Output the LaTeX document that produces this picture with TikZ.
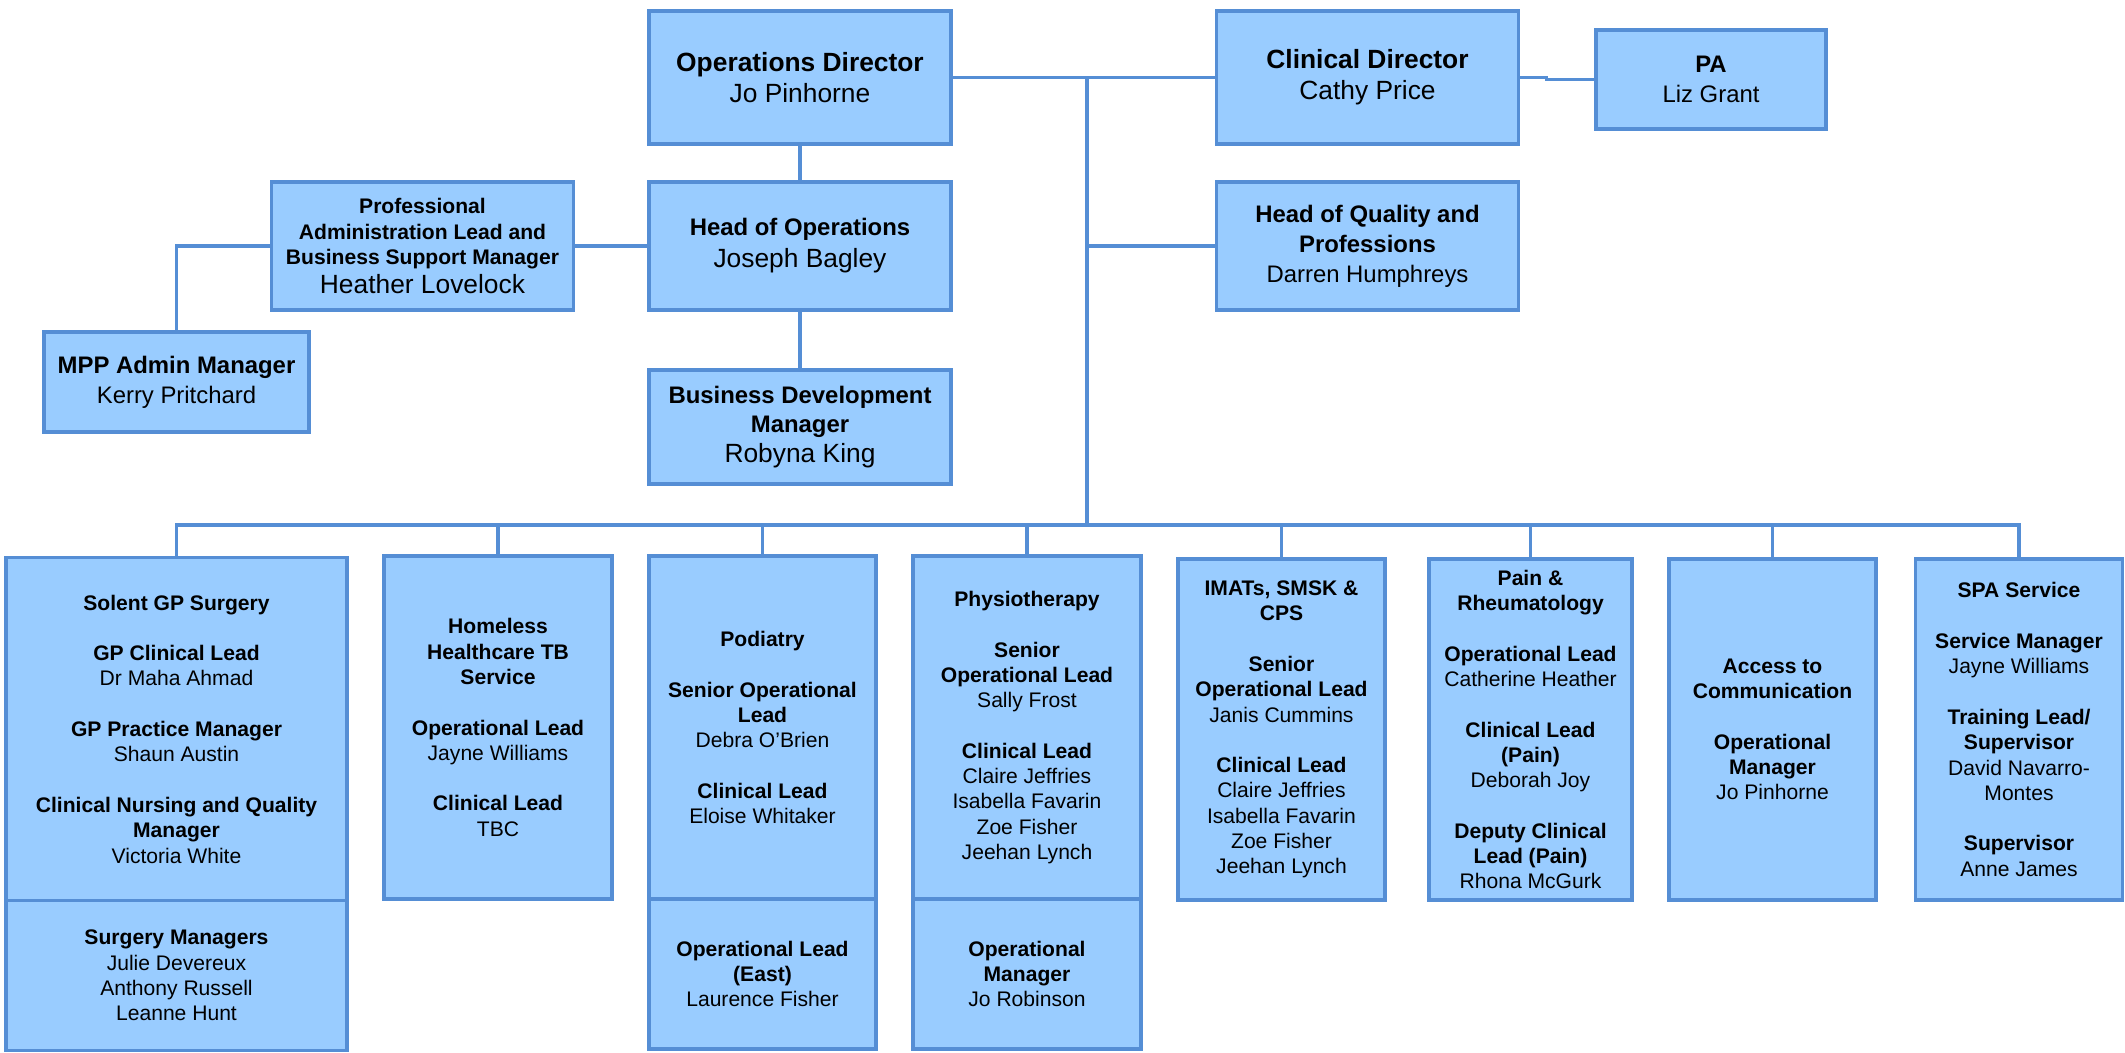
\documentclass[tikz,border=0pt]{standalone}
\usepackage{fontspec}
\setmainfont{Liberation Sans}
\usepackage{tikz}
\usetikzlibrary{positioning}
\definecolor{boxfill}{HTML}{99CCFF}
\definecolor{boxline}{HTML}{558ED5}
\newcommand{\sizeA}{\fontsize{7.5}{8.8}\selectfont}
\newcommand{\sizeB}{\fontsize{6.8}{8.5}\selectfont}
\newcommand{\sizeC}{\fontsize{6}{7.2}\selectfont}
\begin{document}
\begin{tikzpicture}[x=0.1mm, y=-0.1mm,
    orgbox/.style={draw=boxline, fill=boxfill, line width=0.9pt, align=center,
      inner sep=0pt, outer sep=0pt, font=\sizeC},
    topbox/.style={orgbox, minimum width=30.2mm, minimum height=13.3mm},
    unitbox/.style={orgbox, minimum height=34.3mm},
    lowbox/.style={orgbox, minimum height=15mm},
    conn/.style={draw=boxline, line width=1.1pt}]
  \useasboundingbox (0,0) rectangle (2125,1052);
  % top level
  \node[topbox, font=\sizeA] (ops) at (800,77.5) {\textbf{Operations Director}\\Jo Pinhorne};
  \node[topbox, font=\sizeA] (clin) at (1367.5,77.5) {\textbf{Clinical Director}\\Cathy Price};
  \node[orgbox, minimum width=23mm, minimum height=9.9mm, font=\sizeB] (pa) at (1711,79.5) {\textbf{PA}\\Liz Grant};
  % second level
  \node[topbox, minimum height=12.8mm, font=\sizeB] (hops) at (800,246)
    {\textbf{Head of Operations}\\[0.6pt]{\sizeA Joseph Bagley}};
  \node[topbox, minimum height=12.8mm, font=\sizeB] (hoq) at (1367.5,246)
    {\textbf{Head of Quality and}\\\textbf{Professions}\\Darren Humphreys};
  \node[topbox, minimum height=12.8mm, font=\sizeC] (admin) at (422.5,246)
    {\textbf{Professional}\\\textbf{Administration Lead and}\\\textbf{Business Support Manager}\\[1pt]{\sizeA Heather Lovelock}};
  \node[orgbox, minimum width=26.5mm, minimum height=10mm, font=\sizeB] (mpp) at (176.5,382)
    {\textbf{MPP Admin Manager}\\Kerry Pritchard};
  \node[topbox, minimum height=11.4mm, font=\sizeB] (busdev) at (800,427)
    {\textbf{Business Development}\\\textbf{Manager}\\{\sizeA Robyna King}};
  % services
  \node[unitbox, minimum width=34.1mm] (solent) at (176.5,729)
    {\textbf{Solent GP Surgery}\\[7.2pt]
     \textbf{GP Clinical Lead}\\Dr Maha Ahmad\\[7.2pt]
     \textbf{GP Practice Manager}\\Shaun Austin\\[7.2pt]
     \textbf{Clinical Nursing and Quality}\\\textbf{Manager}\\Victoria White};
  \node[lowbox, minimum width=34.1mm, below=0pt of solent] (solentlow)
    {\textbf{Surgery Managers}\\Julie Devereux\\Anthony Russell\\Leanne Hunt};
  \node[unitbox, minimum width=22.8mm] (homeless) at (498,727.5)
    {\textbf{Homeless}\\\textbf{Healthcare TB}\\\textbf{Service}\\[7.2pt]
     \textbf{Operational Lead}\\Jayne Williams\\[7.2pt]
     \textbf{Clinical Lead}\\TBC};
  \node[unitbox, minimum width=22.7mm] (podiatry) at (762.5,727.5)
    {\textbf{Podiatry}\\[7.2pt]
     \textbf{Senior Operational}\\\textbf{Lead}\\Debra O’Brien\\[7.2pt]
     \textbf{Clinical Lead}\\Eloise Whitaker};
  \node[lowbox, minimum width=22.7mm, below=0pt of podiatry] (podiatrylow)
    {\textbf{Operational Lead}\\\textbf{(East)}\\Laurence Fisher};
  \node[unitbox, minimum width=22.8mm] (physio) at (1027,727.5)
    {\textbf{Physiotherapy}\\[7.2pt]
     \textbf{Senior}\\\textbf{Operational Lead}\\Sally Frost\\[7.2pt]
     \textbf{Clinical Lead}\\Claire Jeffries\\Isabella Favarin\\Zoe Fisher\\Jeehan Lynch};
  \node[lowbox, minimum width=22.8mm, below=0pt of physio] (physiolow)
    {\textbf{Operational}\\\textbf{Manager}\\Jo Robinson};
  \node[unitbox, minimum width=20.7mm, minimum height=34.1mm] (imats) at (1281.5,729.5)
    {\textbf{IMATs, SMSK \&}\\\textbf{CPS}\\[7.2pt]
     \textbf{Senior}\\\textbf{Operational Lead}\\Janis Cummins\\[7.2pt]
     \textbf{Clinical Lead}\\Claire Jeffries\\Isabella Favarin\\Zoe Fisher\\Jeehan Lynch};
  \node[unitbox, minimum width=20.3mm, minimum height=34.1mm] (pain) at (1530.5,729.5)
    {\textbf{Pain \&}\\\textbf{Rheumatology}\\[7.2pt]
     \textbf{Operational Lead}\\Catherine Heather\\[7.2pt]
     \textbf{Clinical Lead}\\\textbf{(Pain)}\\Deborah Joy\\[7.2pt]
     \textbf{Deputy Clinical}\\\textbf{Lead (Pain)}\\Rhona McGurk};
  \node[unitbox, minimum width=20.7mm, minimum height=34.1mm] (access) at (1772.5,729.5)
    {\textbf{Access to}\\\textbf{Communication}\\[7.2pt]
     \textbf{Operational}\\\textbf{Manager}\\Jo Pinhorne};
  \node[unitbox, minimum width=20.7mm, minimum height=34.1mm] (spa) at (2019,729.5)
    {\textbf{SPA Service}\\[7.2pt]
     \textbf{Service Manager}\\Jayne Williams\\[7.2pt]
     \textbf{Training Lead/}\\\textbf{Supervisor}\\David Navarro-\\Montes\\[7.2pt]
     \textbf{Supervisor}\\Anne James};
  % connectors
  \coordinate (trunk) at (1087,77.5);
  \coordinate (bus) at (1087,525);
  \draw[conn] (ops.east) -- (clin.west);
  \draw[conn] (clin.east) -- ++(28,0) |- (pa.west);
  \draw[conn] (ops.south) -- (hops.north);
  \draw[conn] (hops.south) -- (busdev.north);
  \draw[conn] (admin.east) -- (hops.west);
  \draw[conn] (admin.west) -| (mpp.north);
  \draw[conn] (trunk) -- (bus);
  \draw[conn] (trunk |- hoq.west) -- (hoq.west);
  \draw[conn] (solent.north) |- (bus) -| (spa.north);
  \foreach \n in {homeless,podiatry,physio,imats,pain,access}
    \draw[conn] (\n.north) -- (\n.north |- bus);
\end{tikzpicture}
\end{document}
